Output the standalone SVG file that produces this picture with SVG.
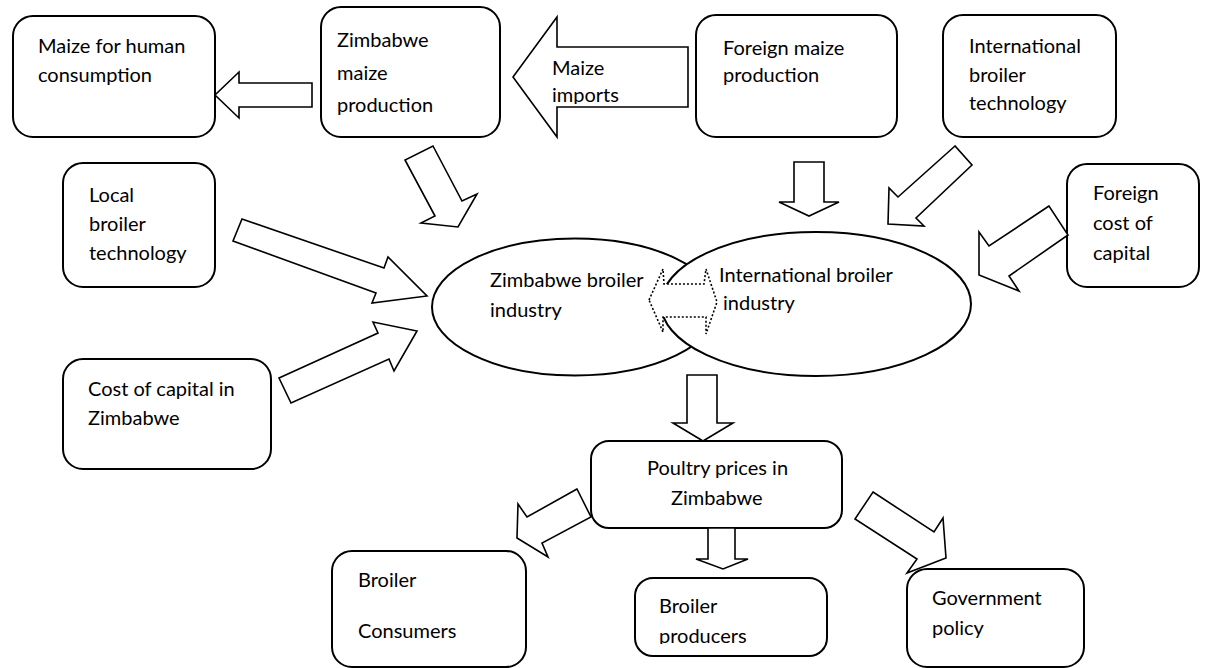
<svg xmlns="http://www.w3.org/2000/svg" width="1206" height="668" viewBox="0 0 1206 668">
<style>
.box{fill:#fff;stroke:#000;stroke-width:2}
.ell{fill:#fff;stroke:#000;stroke-width:2}
.arr{fill:#fff;stroke:#000;stroke-width:1.6;stroke-linejoin:miter}
.dot{fill:#fff;stroke:#000;stroke-width:1.6;stroke-dasharray:2 2}
text{font-family:Lato,"Open Sans",sans-serif;font-size:20px;fill:#000}
</style>
<defs>
<clipPath id="clipImports"><rect x="513" y="17" width="175" height="87"/></clipPath>
<clipPath id="clipProducers"><rect x="635" y="578" width="192" height="66"/></clipPath>
</defs>
<rect width="1206" height="668" fill="#fff"/>
<g id="n-maize-human"><rect class="box" x="13" y="16" width="202" height="121" rx="20"/><text x="38" y="53">Maize for human</text><text x="38" y="82">consumption</text></g>
<g id="n-zim-maize"><rect class="box" x="321" y="7" width="179" height="130" rx="20"/><text x="337" y="47">Zimbabwe</text><text x="337" y="80">maize</text><text x="337" y="112">production</text></g>
<g id="n-foreign-maize"><rect class="box" x="696" y="15" width="201" height="122" rx="20"/><text x="723" y="55">Foreign maize</text><text x="723" y="82">production</text></g>
<g id="n-intl-tech"><rect class="box" x="943" y="15" width="173" height="122" rx="20"/><text x="969" y="53">International</text><text x="969" y="82">broiler</text><text x="969" y="110">technology</text></g>
<g id="n-local-tech"><rect class="box" x="63" y="163" width="152" height="124" rx="20"/><text x="89" y="202">Local</text><text x="89" y="231">broiler</text><text x="89" y="260">technology</text></g>
<g id="n-cost-capital"><rect class="box" x="63" y="359" width="208" height="110" rx="20"/><text x="88" y="396">Cost of capital in</text><text x="88" y="425">Zimbabwe</text></g>
<g id="n-foreign-capital"><rect class="box" x="1067" y="164" width="132" height="123" rx="20"/><text x="1093" y="200">Foreign</text><text x="1093" y="230">cost of</text><text x="1093" y="260">capital</text></g>
<g id="n-zim-industry"><ellipse class="ell" cx="575" cy="307" rx="143" ry="68.5"/><text x="490" y="287">Zimbabwe broiler</text><text x="490" y="317">industry</text></g>
<g id="n-intl-industry"><ellipse class="ell" cx="816" cy="304" rx="155" ry="72"/><text x="719" y="282">International broiler</text><text x="723" y="310">industry</text></g>
<g id="n-poultry-prices"><rect class="box" x="591" y="441" width="251" height="87" rx="18"/><text x="647" y="475">Poultry prices in</text><text x="671" y="505">Zimbabwe</text></g>
<g id="n-consumers"><rect class="box" x="332" y="551" width="194" height="116" rx="20"/><text x="358" y="587">Broiler</text><text x="358" y="638">Consumers</text></g>
<g id="n-producers"><rect class="box" x="635" y="578" width="192" height="78" rx="18"/><g clip-path="url(#clipProducers)"><text x="659" y="613">Broiler</text><text x="659" y="643">producers</text></g></g>
<g id="n-government"><rect class="box" x="907" y="569" width="177" height="98" rx="20"/><text x="932" y="605">Government</text><text x="932" y="635">policy</text></g>
<g id="connectors">
<polygon class="arr" points="312,83 239,83 239,72 215,95 239,118 239,107 312,107"/>
<polygon class="arr" points="688,47 557,47 557,17 513,77 557,137 557,107 688,107"/>
<g clip-path="url(#clipImports)"><text x="552" y="75">Maize</text><text x="552" y="102">imports</text></g>
<polygon class="arr" points="433,146 462,201 477,194 458,227 421,223 435,216 405,160"/>
<polygon class="arr" points="794,162 824,162 824,202 839,202 809,216 779,202 794,202"/>
<polygon class="arr" points="955,146 898,197 889,188 888,224 924,226 916,218 972,165"/>
<polygon class="arr" points="242,219 384,268 388,257 427,296 372,303 376,293 233,241"/>
<polygon class="arr" points="279,378 378,333 373,322 417,331 394,371 389,359 291,403"/>
<polygon class="arr" points="1049,206 989,246 979,232 979,275 1019,291 1009,276 1068,235"/>
<polygon class="dot" points="649,300 663,269 664,284 704,284 706,269 717,302 706,334 706,317 663,317 663,332"/>
<polygon class="arr" points="687,375 717,375 717,423 733,423 703,441 673,423 687,423"/>
<polygon class="arr" points="577,489 527,517 518,504 517,538 548,557 542,543 591,517"/>
<polygon class="arr" points="708,528 735,528 735,559 748,559 723,569 696,559 708,559"/>
<polygon class="arr" points="873,492 934,532 943,518 946,558 907,573 917,559 855,519"/>
</g>
</svg>
